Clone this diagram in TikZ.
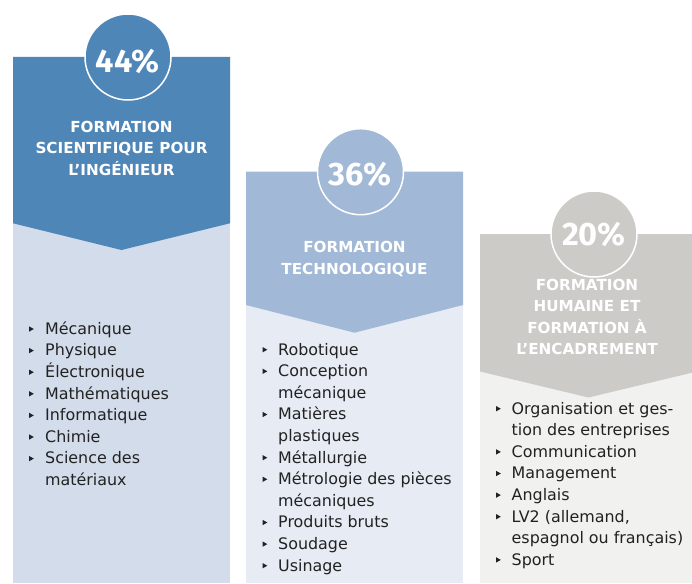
\documentclass[tikz,border=0pt]{standalone}
\usepackage{fontspec}
\setmainfont{DejaVu Sans}
\newfontfamily\pctfont{Fira Sans}
\definecolor{sciHead}{HTML}{4F86B8}
\definecolor{sciBody}{HTML}{D3DCEA}
\definecolor{techHead}{HTML}{A1B8D6}
\definecolor{techBody}{HTML}{E6EBF4}
\definecolor{humHead}{HTML}{CCCBC8}
\definecolor{humBody}{HTML}{F1F1F0}
\definecolor{txtGrey}{HTML}{222222}
\tikzset{
  head/.style={anchor=base, text=white, inner sep=0pt, font=\bfseries\fontsize{15.2}{18}\selectfont},
  pct/.style={anchor=base, text=white, inner sep=0pt, font=\pctfont\bfseries\fontsize{32.5}{36}\selectfont},
  item/.style={anchor=base west, text=txtGrey, inner sep=0pt, font=\fontsize{15.9}{18}\selectfont},
  ring/.style={circle, draw=white, line width=1.5pt, minimum size=86pt, inner sep=0pt},
}
\newcommand{\bullettri}[2]{\fill[txtGrey] ({#1},{#2-2.7}) -- ({#1+4.8},{#2}) -- ({#1},{#2+2.7}) -- cycle;}
\begin{document}
\begin{tikzpicture}[x=1pt,y=-1pt]
	\useasboundingbox (0,0) rectangle (692,583);
	\fill[white] (0,0) rectangle (692,583);
	% column bodies
	\fill[sciBody] (13,57) rectangle (230,583);
	\fill[techBody] (246,171.7) rectangle (463,583);
	\fill[humBody] (480,234) rectangle (697,583);
	% headers with chevron
	\fill[sciHead] (13,57) -- (230,57) -- (230,223.3) -- (121.5,250) -- (13,223.3) -- cycle;
	\fill[techHead] (246,171.7) -- (463,171.7) -- (463,305) -- (354.5,332.7) -- (246,305) -- cycle;
	\fill[humHead] (480,234) -- (697,234) -- (697,371.5) -- (588.5,397.5) -- (480,371.5) -- cycle;
	% percentages
	\node[ring, fill=sciHead] (c1) at (128,57) {};
	\node[pct] (p1) at (127.5,73) {44\%};
	\node[ring, fill=techHead] (c2) at (360.5,171.7) {};
	\node[pct] (p2) at (360,185) {36\%};
	\node[ring, fill=humHead] (c3) at (594,234) {};
	\node[pct] (p3) at (594,245) {20\%};
	% titles
	\foreach \t [count=\i] in {FORMATION,SCIENTIFIQUE POUR,L’INGÉNIEUR}
		\node[head] (h1-\i) at (121.5,{132.5+21.4*(\i-1)}) {\t};
	\foreach \t [count=\i] in {FORMATION,TECHNOLOGIQUE}
		\node[head] (h2-\i) at (354.5,{252.7+21.4*(\i-1)}) {\t};
	\foreach \t [count=\i] in {FORMATION,HUMAINE ET,FORMATION À,L’ENCADREMENT}
		\node[head] (h3-\i) at (587,{290+21.5*(\i-1)}) {\t};
	% lists
	\foreach \b/\t [count=\i] in {1/Mécanique,1/Physique,1/Électronique,1/Mathématiques,1/Informatique,1/Chimie,1/Science des,0/matériaux}{
		\pgfmathsetmacro\yy{334.3+21.6*(\i-1)}
		\node[item] (l1-\i) at (45,\yy) {\t};
		\ifnum\b=1 \bullettri{29}{\yy-5.3} \fi
	}
	\foreach \b/\t [count=\i] in {1/Robotique,1/Conception,0/mécanique,1/Matières,0/plastiques,1/Métallurgie,1/Métrologie des pièces,0/mécaniques,1/Produits bruts,1/Soudage,1/Usinage}{
		\pgfmathsetmacro\yy{355+21.6*(\i-1)}
		\node[item] (l2-\i) at (278,\yy) {\t};
		\ifnum\b=1 \bullettri{262.5}{\yy-5.3} \fi
	}
	\foreach \b/\t [count=\i] in {1/Organisation et ges-,0/tion des entreprises,1/Communication,1/Management,1/Anglais,{1/LV2 (allemand,},0/espagnol ou français),1/Sport}{
		\pgfmathsetmacro\yy{414+21.6*(\i-1)}
		\node[item] (l3-\i) at (511.5,\yy) {\t};
		\ifnum\b=1 \bullettri{496}{\yy-5.3} \fi
	}
\end{tikzpicture}
\end{document}
